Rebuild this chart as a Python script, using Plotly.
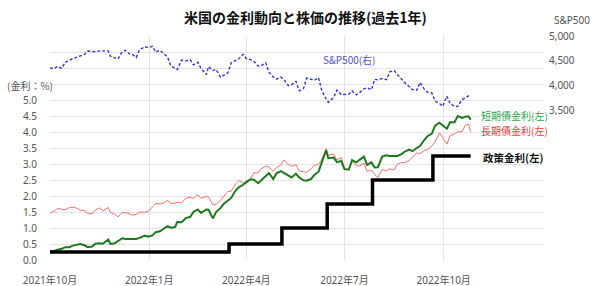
import plotly.graph_objects as go

# ---- data ----
dates = [
    "2021-10-01", "2021-10-05", "2021-10-08", "2021-10-12", "2021-10-15", "2021-10-19",
    "2021-10-22", "2021-10-26", "2021-10-29", "2021-11-02", "2021-11-05", "2021-11-09",
    "2021-11-12", "2021-11-16", "2021-11-19", "2021-11-24", "2021-11-26", "2021-11-30",
    "2021-12-03", "2021-12-07", "2021-12-10", "2021-12-14", "2021-12-17", "2021-12-20",
    "2021-12-23", "2021-12-28", "2021-12-31", "2022-01-04", "2022-01-07", "2022-01-11",
    "2022-01-14", "2022-01-18", "2022-01-21", "2022-01-25", "2022-01-27", "2022-01-31",
    "2022-02-04", "2022-02-08", "2022-02-11", "2022-02-15", "2022-02-18", "2022-02-23",
    "2022-02-25", "2022-03-01", "2022-03-04", "2022-03-08", "2022-03-11", "2022-03-15",
    "2022-03-18", "2022-03-22", "2022-03-25", "2022-03-29", "2022-04-01", "2022-04-05",
    "2022-04-08", "2022-04-12", "2022-04-14", "2022-04-19", "2022-04-22", "2022-04-26",
    "2022-04-29", "2022-05-03", "2022-05-06", "2022-05-10", "2022-05-13", "2022-05-17",
    "2022-05-20", "2022-05-24", "2022-05-27", "2022-05-31", "2022-06-03", "2022-06-07",
    "2022-06-10", "2022-06-14", "2022-06-16", "2022-06-21", "2022-06-24", "2022-06-28",
    "2022-07-01", "2022-07-05", "2022-07-08", "2022-07-12", "2022-07-15", "2022-07-19",
    "2022-07-22", "2022-07-26", "2022-07-29", "2022-08-01", "2022-08-05", "2022-08-09",
    "2022-08-12", "2022-08-16", "2022-08-19", "2022-08-23", "2022-08-26", "2022-08-30",
    "2022-09-02", "2022-09-06", "2022-09-09", "2022-09-13", "2022-09-16", "2022-09-20",
    "2022-09-23", "2022-09-27", "2022-09-30", "2022-10-04", "2022-10-07", "2022-10-11",
    "2022-10-14", "2022-10-18", "2022-10-21", "2022-10-24", "2022-10-26",
]
sp500 = [
    4357, 4346, 4391, 4351, 4471, 4520, 4545, 4575, 4605, 4631, 4697, 4685,
    4683, 4701, 4698, 4701, 4595, 4567, 4538, 4686, 4712, 4634, 4620, 4568,
    4725, 4786, 4766, 4794, 4677, 4713, 4662, 4577, 4398, 4357, 4327, 4516,
    4500, 4521, 4419, 4471, 4349, 4225, 4385, 4306, 4329, 4171, 4204, 4262,
    4463, 4512, 4543, 4632, 4546, 4526, 4488, 4397, 4393, 4463, 4272, 4176,
    4132, 4175, 4123, 4001, 4024, 4089, 3901, 3941, 4158, 4132, 4109, 4161,
    3901, 3735, 3667, 3765, 3912, 3821, 3825, 3831, 3899, 3819, 3863, 3937,
    3962, 3921, 4130, 4119, 4145, 4122, 4280, 4305, 4228, 4128, 4058, 3986,
    3924, 3909, 4067, 3932, 3873, 3856, 3693, 3647, 3586, 3791, 3640, 3589,
    3583, 3720, 3753, 3798, 3831,
]
short_rate = [
    0.27, 0.28, 0.32, 0.35, 0.40, 0.40, 0.45, 0.48, 0.50, 0.46, 0.40, 0.42,
    0.51, 0.52, 0.51, 0.64, 0.50, 0.52, 0.59, 0.68, 0.66, 0.66, 0.64, 0.66,
    0.69, 0.76, 0.73, 0.77, 0.87, 0.90, 0.97, 1.06, 1.01, 1.03, 1.19, 1.18,
    1.31, 1.35, 1.50, 1.58, 1.47, 1.58, 1.57, 1.30, 1.50, 1.62, 1.75, 1.85,
    1.94, 2.17, 2.27, 2.35, 2.44, 2.52, 2.51, 2.40, 2.46, 2.60, 2.72, 2.53,
    2.71, 2.78, 2.72, 2.63, 2.58, 2.70, 2.58, 2.49, 2.48, 2.53, 2.66, 2.76,
    3.06, 3.43, 3.18, 3.20, 3.06, 3.09, 2.84, 2.82, 3.12, 3.05, 3.13, 3.23,
    2.97, 3.05, 2.89, 2.90, 3.23, 3.27, 3.25, 3.25, 3.25, 3.31, 3.39, 3.45,
    3.40, 3.50, 3.56, 3.75, 3.87, 3.95, 4.20, 4.29, 4.22, 4.10, 4.31, 4.30,
    4.50, 4.44, 4.48, 4.49, 4.38,
]
long_rate = [
    1.47, 1.53, 1.61, 1.58, 1.57, 1.64, 1.65, 1.62, 1.55, 1.55, 1.45, 1.44,
    1.56, 1.63, 1.54, 1.64, 1.48, 1.43, 1.35, 1.48, 1.48, 1.44, 1.40, 1.43,
    1.50, 1.49, 1.52, 1.66, 1.77, 1.75, 1.78, 1.87, 1.76, 1.78, 1.80, 1.79,
    1.93, 1.96, 1.92, 2.04, 1.93, 1.99, 1.97, 1.72, 1.74, 1.86, 2.00, 2.15,
    2.15, 2.38, 2.48, 2.40, 2.38, 2.55, 2.72, 2.72, 2.83, 2.94, 2.90, 2.77,
    2.89, 2.97, 3.13, 2.99, 2.93, 2.98, 2.78, 2.76, 2.74, 2.85, 2.96, 2.98,
    3.15, 3.48, 3.28, 3.31, 3.13, 3.20, 2.88, 2.81, 3.08, 2.96, 2.93, 3.03,
    2.77, 2.81, 2.67, 2.58, 2.83, 2.79, 2.85, 2.81, 2.98, 3.05, 3.04, 3.11,
    3.20, 3.35, 3.32, 3.42, 3.45, 3.56, 3.69, 3.97, 3.83, 3.62, 3.89, 3.94,
    4.01, 4.01, 4.21, 4.25, 4.02,
]
policy_dates = ["2021-10-01", "2022-03-16", "2022-05-04", "2022-06-15",
                "2022-07-27", "2022-09-21", "2022-10-26"]
policy_rate = [0.25, 0.50, 1.00, 1.75, 2.50, 3.25, 3.25]

x_tick_dates = ["2021-10-01", "2022-01-01", "2022-04-01", "2022-07-01", "2022-10-01"]
x_tick_labels = ["2021年10月", "2022年1月", "2022年4月", "2022年7月", "2022年10月"]
left_ticks = [0.0, 0.5, 1.0, 1.5, 2.0, 2.5, 3.0, 3.5, 4.0, 4.5, 5.0, 5.5, 6.0, 6.5, 7.0]
left_labels = ["0.0", "0.5", "1.0", "1.5", "2.0", "2.5", "3.0", "3.5", "4.0", "4.5", "5.0",
               "", "", "", ""]
right_ticks = [3500, 4000, 4500, 5000]
right_labels = ["3,500", "4,000", "4,500", "5,000"]

FONT = "Noto Sans, Noto Sans CJK JP, sans-serif"
CJK = "Noto Sans CJK JP, sans-serif"
TICK_COLOR = "#555555"
GRID = "#e3e3e3"

fig = go.Figure()
fig.add_trace(go.Scatter(x=dates, y=long_rate, mode="lines",
                         line=dict(color="#f07070", width=1), yaxis="y"))
fig.add_trace(go.Scatter(x=dates, y=short_rate, mode="lines",
                         line=dict(color="#1f7a1f", width=2), yaxis="y"))
fig.add_trace(go.Scatter(x=policy_dates, y=policy_rate, mode="lines",
                         line=dict(color="#000000", width=3.5, shape="hv"), yaxis="y"))
fig.add_trace(go.Scatter(x=dates, y=sp500, mode="lines",
                         line=dict(color="#3535d0", width=1.4, dash="3px,2px"), yaxis="y2"))

fig.update_layout(
    width=600, height=286,
    margin=dict(l=50, r=56, t=36, b=26),
    paper_bgcolor="white", plot_bgcolor="white",
    showlegend=False,
    font=dict(family=FONT, size=10, color=TICK_COLOR),
    xaxis=dict(
        type="date", range=["2021-10-01", "2023-01-02"],
        tickvals=x_tick_dates, ticktext=x_tick_labels,
        showgrid=True, gridcolor=GRID, gridwidth=1,
        zeroline=False, showline=False, ticks="",
        ticklabelstandoff=13, automargin=False,
        tickfont=dict(family=FONT, size=10, color=TICK_COLOR),
    ),
    yaxis=dict(
        range=[0, 7], tickvals=left_ticks, ticktext=left_labels,
        showgrid=True, gridcolor=GRID, gridwidth=1,
        zeroline=False, showline=False, ticks="",
        ticklabelstandoff=12, automargin=False,
        tickfont=dict(family=FONT, size=10, color=TICK_COLOR),
    ),
    yaxis2=dict(
        range=[500, 5000], overlaying="y", side="right",
        tickvals=right_ticks, ticktext=right_labels,
        showgrid=False, zeroline=False, showline=False, ticks="",
        ticklabelstandoff=4, automargin=False,
        tickfont=dict(family=FONT, size=10, color=TICK_COLOR),
    ),
    annotations=[
        dict(text="<b>米国の金利動向と株価の推移(過去1年)</b>", x=305, y=17,
             xref="paper", yref="paper", showarrow=False,
             font=dict(family=CJK, size=14, color="#111111")),
        dict(text="(金利：%)", x=5, y=85, xanchor="left", showarrow=False,
             font=dict(family=CJK, size=10, color=TICK_COLOR)),
        dict(text="S&P500", x=552, y=20, xanchor="left", showarrow=False,
             font=dict(family=FONT, size=10, color=TICK_COLOR)),
        dict(text="S&P500(右)", x=349, y=60, showarrow=False,
             font=dict(family=CJK, size=10, color="#5050c8")),
        dict(text="短期債金利(左)", x=479, y=116, xanchor="left", showarrow=False,
             font=dict(family=CJK, size=10, color="#2fa850")),
        dict(text="長期債金利(左)", x=479, y=130, xanchor="left", showarrow=False,
             font=dict(family=CJK, size=10, color="#e84040")),
        dict(text="<b>政策金利(左)</b>", x=481, y=157, xanchor="left", showarrow=False,
             font=dict(family=CJK, size=10.5, color="#111111")),
    ],
)

# convert pixel positions of annotations to paper coordinates
W, H = 600, 286
L, R, T, B = 50, 56, 36, 26
pw, ph = W - L - R, H - T - B
new_ann = []
for a in fig.layout.annotations:
    a.x = (a.x - L) / pw
    a.y = (H - B - a.y) / ph
    a.xref = "paper"
    a.yref = "paper"
    a.yanchor = "middle"
    new_ann.append(a)
fig.layout.annotations = new_ann

fig.write_html("out.html")
